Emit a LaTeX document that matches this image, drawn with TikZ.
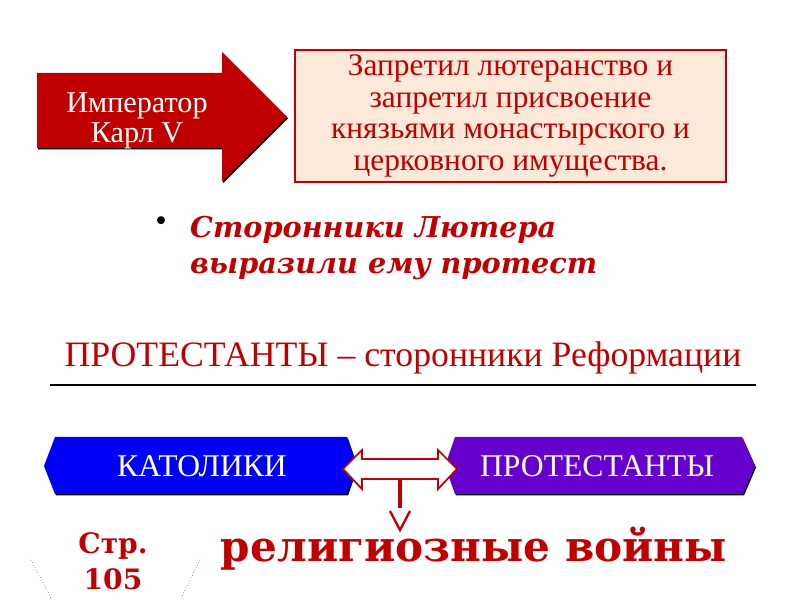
\documentclass[tikz,border=0pt]{standalone}
\usepackage{fontspec}
\setmainfont{Liberation Serif}
\newfontfamily\slabfont{DejaVu Serif}
\usetikzlibrary{positioning}
\definecolor{darkred}{RGB}{192,0,0}
\definecolor{peach}{RGB}{253,233,217}
\definecolor{catblue}{RGB}{0,0,250}
\definecolor{protpurple}{RGB}{102,0,204}
\tikzset{
  plaintext/.style={inner sep=0pt, align=center},
  redtext/.style={plaintext, text=darkred},
  whitetext/.style={plaintext, text=white},
  shadowfill/.style={fill=black, xshift=0.03cm, yshift=-0.045cm},
}
\begin{document}
\begin{tikzpicture}[x=0.03cm, y=-0.03cm]
  \useasboundingbox (0,0) rectangle (800,600);

  % emperor arrow
  \fill[shadowfill] (37,73) -- (222,73) -- (222,52) -- (287,117) -- (222,182) -- (222,148) -- (37,148) -- cycle;
  \fill[darkred] (37,73) -- (222,73) -- (222,52) -- (287,117) -- (222,182) -- (222,148) -- (37,148) -- cycle;
  \node[whitetext, font=\fontsize{25.8}{25.5}\selectfont] (emperor) at (137,121) {Император\\Карл V};

  % the ban
  \node[draw=darkred, line width=1.6pt, fill=peach, minimum width=12.93cm, minimum height=3.96cm,
        text=darkred, align=center, font=\fontsize{26.8}{27}\selectfont] (ban) at (510.5,116)
        {Запретил лютеранство и\\запретил присвоение\\князьями монастырского и\\церковного имущества.};

  % protest
  \node[plaintext, font=\fontsize{28}{30}\selectfont] (bullet) at (161,224) {•};
  \node[redtext, anchor=west, align=left, font=\slabfont\bfseries\itshape\fontsize{24.5}{30.6}\selectfont]
        (followers) at (190,248) {Сторонники Лютера\\выразили ему протест};

  % definition
  \node[redtext, font=\fontsize{30.5}{36}\selectfont] (definition) at (403,358)
        {ПРОТЕСТАНТЫ – сторонники Реформации};
  \draw[line width=2.5pt] (50,385) -- (756,385);

  % two camps
  \fill[shadowfill] (44,466) -- (55,437) -- (347,437) -- (357,466) -- (347,494) -- (55,494) -- cycle;
  \fill[catblue] (44,466) -- (55,437) -- (347,437) -- (357,466) -- (347,494) -- (55,494) -- cycle;
  \node[whitetext, font=\fontsize{27}{30}\selectfont] (catholics) at (202,466) {КАТОЛИКИ};

  \fill[shadowfill] (445,466) -- (455,437) -- (742,437) -- (755,466) -- (743,494) -- (455,494) -- cycle;
  \fill[protpurple] (445,466) -- (455,437) -- (742,437) -- (755,466) -- (743,494) -- (455,494) -- cycle;
  \node[whitetext, font=\fontsize{27}{30}\selectfont] (protestants) at (597,466) {ПРОТЕСТАНТЫ};

  % clash and wars
  \draw[darkred, line width=1.5pt, fill=white, line join=miter]
    (343,469) -- (362,450) -- (362,459) -- (438,459) -- (438,450) -- (457,469)
    -- (438,489) -- (438,479) -- (362,479) -- (362,489) -- cycle;
  \coordinate (clash) at (400,479);
  \coordinate (warstop) at (400,530);
  \node[redtext, font=\slabfont\bfseries\fontsize{36}{40}\selectfont] (wars) at (474,549) {религиозные войны};
  \draw[darkred, line width=3.4pt] (clash) -- ++(0,29);
  \draw[darkred, line width=2pt] (390,511) -- (warstop) -- (410,511);

  % page reference
  \node[redtext, font=\slabfont\bfseries\fontsize{24}{30.6}\selectfont] (page) at (113,561) {Стр.\\105};
  \draw[dotted] (31,560) -- (51,598);
  \draw[dotted] (200,560) -- (181,598);
\end{tikzpicture}
\end{document}
